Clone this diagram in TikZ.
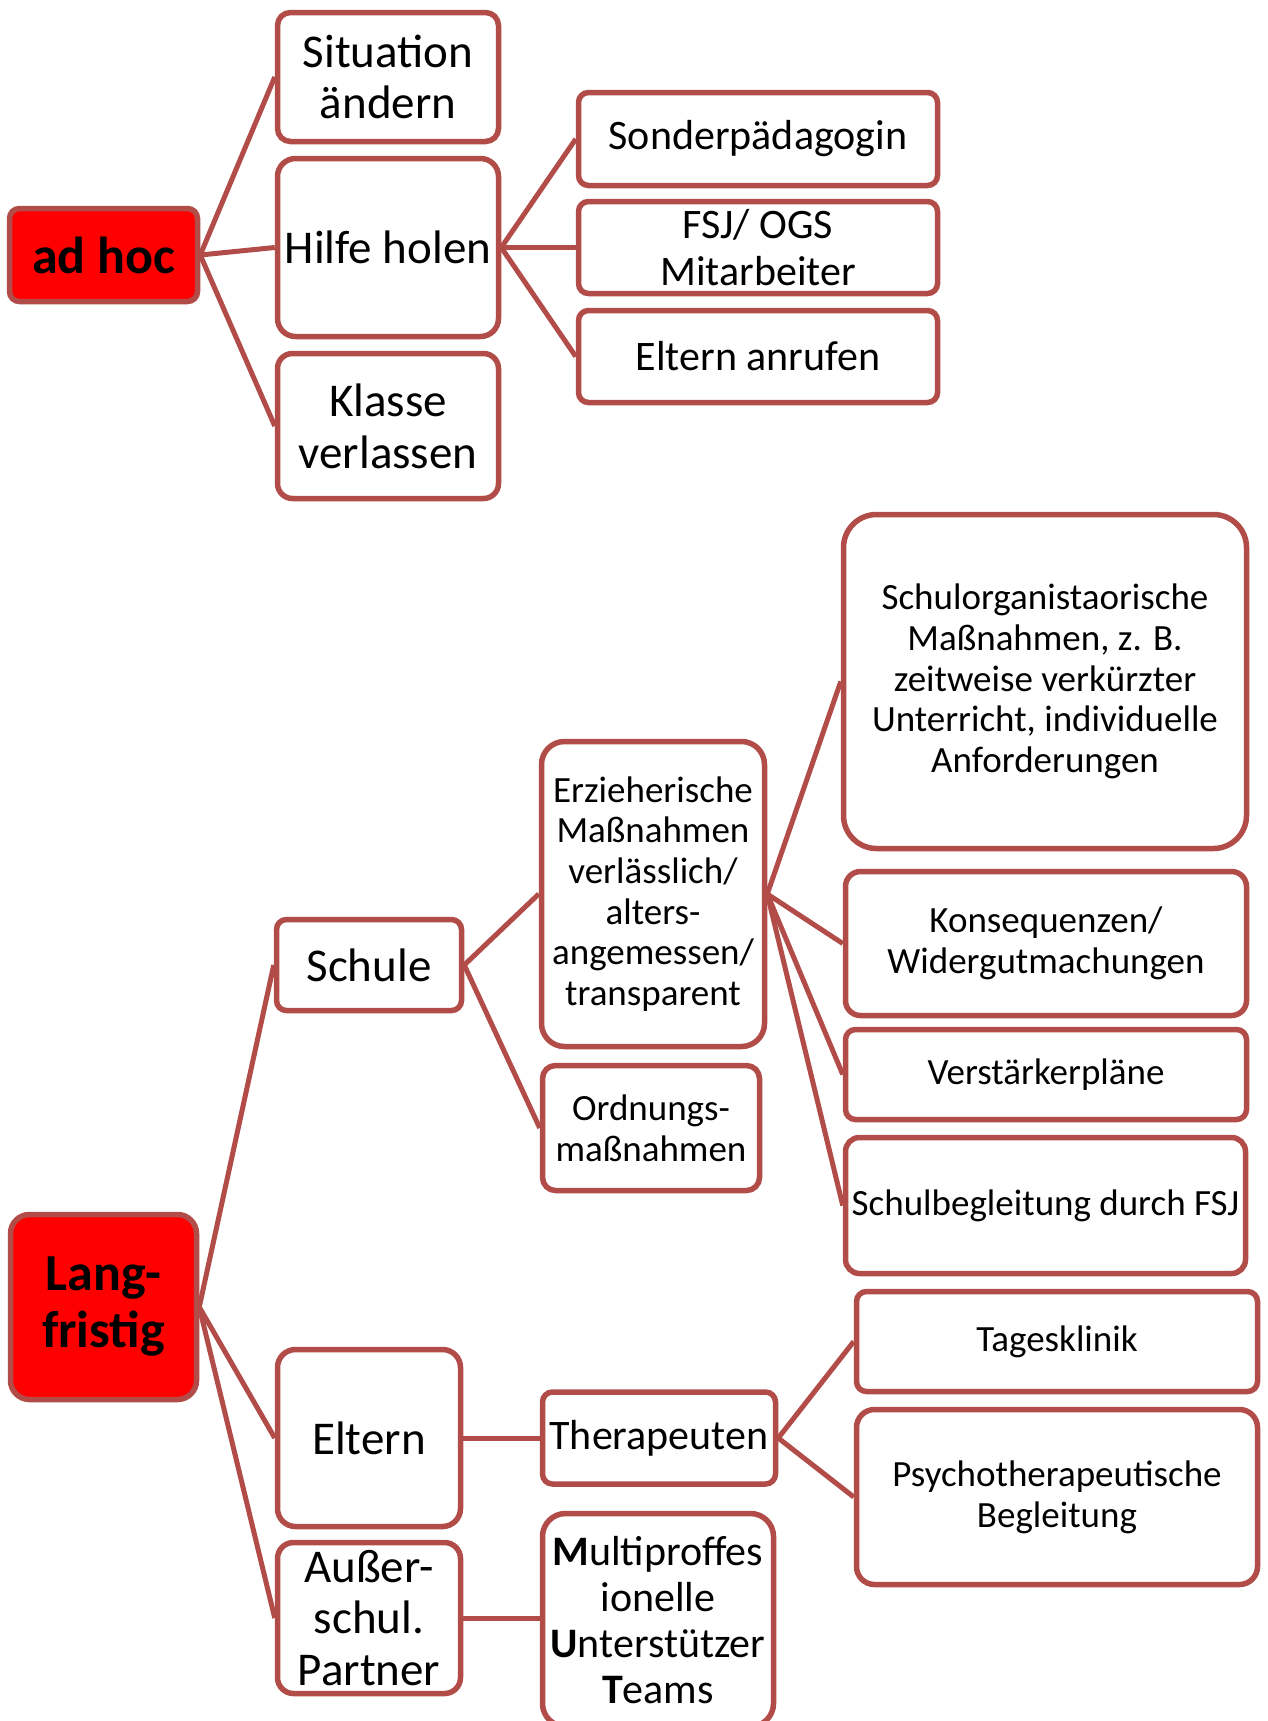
\documentclass[tikz,border=0pt]{standalone}
\usepackage{fontspec}
\setmainfont{Carlito}
\definecolor{bordc}{RGB}{178,76,73}
\definecolor{rootred}{RGB}{255,0,0}
\newcommand\fszA{\fontsize{47}{51.7}\selectfont}
\newcommand\fszB{\fontsize{42}{46.2}\selectfont}
\newcommand\fszC{\fontsize{37}{40.7}\selectfont}
\newcommand\fszR{\fontsize{52}{57}\selectfont\bfseries}
\tikzset{
  box/.style={draw=bordc, line width=5.5pt, fill=white, inner sep=0pt, align=center, text=black},
  rootbox/.style={box, fill=rootred},
  conn/.style={draw=bordc, line width=5pt},
}
\begin{document}
\begin{tikzpicture}[x=1pt,y=-1pt]
\useasboundingbox (0,0) rectangle (1267,1721);
\clip (0,0) rectangle (1267,1721);
\fill[white] (0,0) rectangle (1267,1721);
% top section
\node[rootbox, rounded corners=10pt, minimum width=188pt, minimum height=93pt, font=\fszR] (adhoc) at (103.5,255) {ad hoc};
\node[box, rounded corners=13pt, minimum width=221pt, minimum height=129pt, font=\fszA] (sit) at (388,77) {Situation\\ändern};
\node[box, rounded corners=18pt, minimum width=221pt, minimum height=178pt, font=\fszA] (hilfe) at (388,247.5) {Hilfe holen};
\node[box, rounded corners=15pt, minimum width=221pt, minimum height=145pt, font=\fszA] (klasse) at (388,426) {Klasse\\verlassen};
\node[box, rounded corners=10pt, minimum width=359pt, minimum height=93pt, font=\fszB] (sonder) at (758,139) {Sonderpädagogin};
\node[box, rounded corners=10pt, minimum width=359pt, minimum height=92pt, font=\fszB] (fsj) at (758,247.5) {FSJ/ OGS\\Mitarbeiter};
\node[box, rounded corners=10pt, minimum width=359pt, minimum height=92pt, font=\fszB] (elternanr) at (758,356.5) {Eltern anrufen};
% bottom section
\node[box, rounded corners=33pt, minimum width=403pt, minimum height=334pt, font=\fszC] (schulorg) at (1045,681.5) {Schulorganistaorische\\Maßnahmen, z. B.\\zeitweise verkürzter\\Unterricht, individuelle\\Anforderungen};
\node[box, rounded corners=23pt, minimum width=223pt, minimum height=305pt, font=\fszC] (erz) at (653,894) {Erzieherische\\Maßnahmen\\verlässlich/\\alters-\\angemessen/\\transparent};
\node[box, rounded corners=10pt, minimum width=185pt, minimum height=91pt, font=\fszA] (schule) at (369,965) {Schule};
\node[box, rounded corners=15pt, minimum width=401pt, minimum height=144pt, font=\fszC] (konseq) at (1046,943.5) {Konsequenzen/\\Widergutmachungen};
\node[box, rounded corners=10pt, minimum width=401pt, minimum height=90pt, font=\fszC] (verst) at (1046,1074.5) {Verstärkerpläne};
\node[box, rounded corners=13pt, minimum width=217pt, minimum height=125pt, font=\fszC] (ordn) at (651,1128) {Ordnungs-\\maßnahmen};
\node[box, rounded corners=14pt, minimum width=400pt, minimum height=136pt, font=\fszC] (schulbeg) at (1045.5,1205.5) {Schulbegleitung durch FSJ};
\node[rootbox, rounded corners=19pt, minimum width=186pt, minimum height=185pt, font=\fszR] (lang) at (103.5,1307) {Lang-\\fristig};
\node[box, rounded corners=10pt, minimum width=401pt, minimum height=100pt, font=\fszC] (tages) at (1057,1341.5) {Tagesklinik};
\node[box, rounded corners=18pt, minimum width=183pt, minimum height=177pt, font=\fszA] (eltern) at (369,1438) {Eltern};
\node[box, rounded corners=10pt, minimum width=233pt, minimum height=92pt, font=\fszB] (therap) at (659,1438) {Therapeuten};
\node[box, rounded corners=18pt, minimum width=401pt, minimum height=175pt, font=\fszC] (psycho) at (1057,1497) {Psychotherapeutische\\Begleitung};
\node[box, rounded corners=16pt, minimum width=183pt, minimum height=151pt, font=\fszA] (aussen) at (369,1618) {Außer-\\schul.\\Partner};
\node[box, rounded corners=23pt, minimum width=231pt, minimum height=213pt, font=\fszB] (multi) at (658,1620) {\textbf{M}ultiproffes\\ionelle\\\textbf{U}nterstützer\\\textbf{T}eams};
% connectors
\draw[conn] (adhoc.east) -- (sit.west);
\draw[conn] (adhoc.east) -- (hilfe.west);
\draw[conn] (adhoc.east) -- (klasse.west);
\draw[conn] (hilfe.east) -- (sonder.west);
\draw[conn] (hilfe.east) -- (fsj.west);
\draw[conn] (hilfe.east) -- (elternanr.west);
\draw[conn] (lang.east) -- (schule.west);
\draw[conn] (lang.east) -- (eltern.west);
\draw[conn] (lang.east) -- (aussen.west);
\draw[conn] (schule.east) -- (erz.west);
\draw[conn] (schule.east) -- (ordn.west);
\draw[conn] (erz.east) -- (schulorg.west);
\draw[conn] (erz.east) -- (konseq.west);
\draw[conn] (erz.east) -- (verst.west);
\draw[conn] (erz.east) -- (schulbeg.west);
\draw[conn] (eltern.east) -- (eltern.east -| therap.west);
\draw[conn] (therap.east) -- (tages.west);
\draw[conn] (therap.east) -- (psycho.west);
\draw[conn] (aussen.east) -- (aussen.east -| multi.west);
\end{tikzpicture}
\end{document}
